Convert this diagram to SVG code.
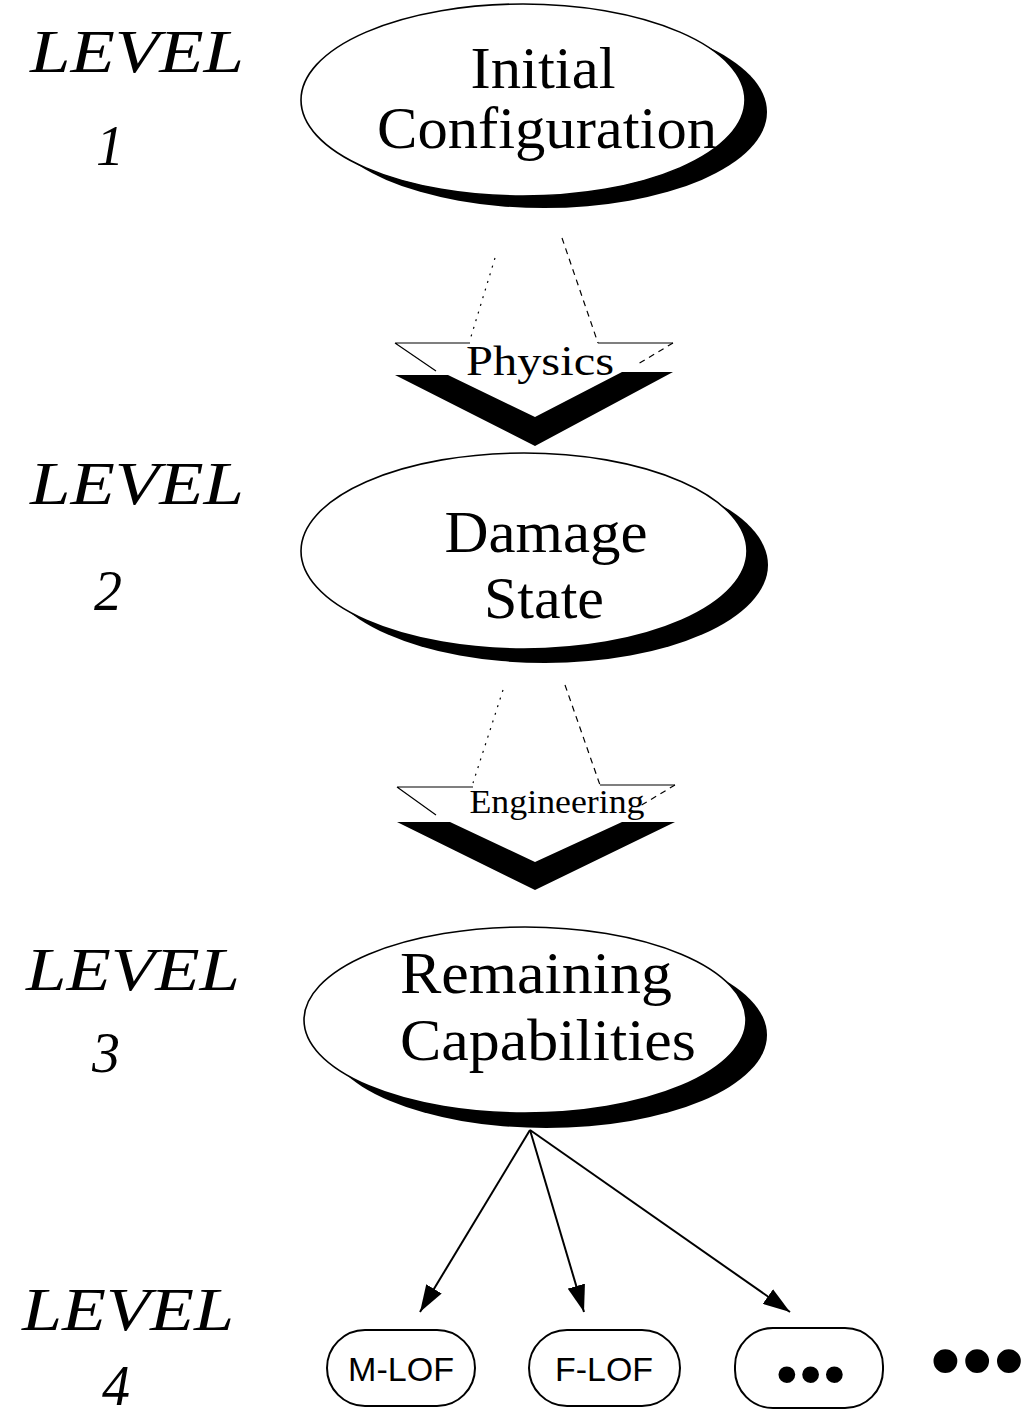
<svg xmlns="http://www.w3.org/2000/svg" width="1028" height="1421" viewBox="0 0 1028 1421">
<defs>
<style>
.lvl{font-family:"Liberation Serif",serif;font-style:italic;font-size:62px;fill:#000}
.num{font-family:"Liberation Serif",serif;font-style:italic;font-size:56px;fill:#000;text-anchor:middle}
.big{font-family:"Liberation Serif",serif;font-size:60px;fill:#000;text-anchor:middle}
.lab{font-family:"Liberation Serif",serif;fill:#000;text-anchor:middle}
.sans{font-family:"Liberation Sans",sans-serif;font-size:33px;fill:#000;text-anchor:middle}
.ell{fill:#fff;stroke:#000;stroke-width:1.6}
.shadow{fill:#000}
.pill{fill:#fff;stroke:#000;stroke-width:2}
.face{fill:#fff;stroke:none}
.edge{fill:none;stroke:#000;stroke-width:1.2}
.dash{fill:none;stroke:#000;stroke-width:1.2;stroke-dasharray:6 5}
.dot{fill:none;stroke:#000;stroke-width:1.2;stroke-dasharray:2 6}
.conn{stroke:#000;stroke-width:2;fill:none}
</style>
<marker id="ah" markerWidth="28" markerHeight="18" refX="27" refY="9" orient="auto" markerUnits="userSpaceOnUse">
<path d="M0,0 L27,9 L0,18 Z" fill="#000"/>
</marker>
</defs>
<rect width="1028" height="1421" fill="#fff"/>

<g id="level1">
<text class="lvl" x="30" y="72" textLength="214" lengthAdjust="spacingAndGlyphs">LEVEL</text>
<text class="num" x="110" y="165">1</text>
</g>
<g id="level2">
<text class="lvl" x="30" y="504" textLength="214" lengthAdjust="spacingAndGlyphs">LEVEL</text>
<text class="num" x="108" y="610">2</text>
</g>
<g id="level3">
<text class="lvl" x="26" y="990" textLength="214" lengthAdjust="spacingAndGlyphs">LEVEL</text>
<text class="num" x="106" y="1072">3</text>
</g>
<g id="level4">
<text class="lvl" x="22" y="1330" textLength="212" lengthAdjust="spacingAndGlyphs">LEVEL</text>
<text class="num" x="116" y="1405" font-size="52">4</text>
</g>

<g id="connectors">
<g id="physics-arrow">
<polygon class="face" points="395,343 673,343 535,440"/>
<path class="edge" d="M395,343 L470,343 M598,343 L673,343 M395,343 L436,371"/>
<path class="dash" d="M562,238 L598,343 M673,343 L638,364"/>
<path class="dot" d="M495,258 L470,340"/>
<polygon fill="#000" points="395,375 448,375 535,417 622,372 673,372 535,446"/>
<text class="lab" x="540" y="375" font-size="42" textLength="148" lengthAdjust="spacingAndGlyphs">Physics</text>
</g>
<g id="engineering-arrow">
<polygon class="face" points="397,787 675,785 535,880"/>
<path class="edge" d="M397,787 L473,787 M600,785 L675,785 M397,787 L436,815"/>
<path class="dash" d="M565,685 L600,785 M675,785 L640,806"/>
<path class="dot" d="M503,690 L473,783"/>
<polygon fill="#000" points="397,822 450,822 535,862 622,822 675,822 535,890"/>
<text class="lab" x="557" y="813" font-size="33" textLength="175" lengthAdjust="spacingAndGlyphs">Engineering</text>
</g>
<line class="conn" x1="530" y1="1130" x2="420" y2="1312" marker-end="url(#ah)"/>
<line class="conn" x1="530" y1="1130" x2="584" y2="1312" marker-end="url(#ah)"/>
<line class="conn" x1="530" y1="1130" x2="790" y2="1312" marker-end="url(#ah)"/>
</g>

<g id="initial-configuration">
<ellipse class="shadow" cx="544" cy="112" rx="223" ry="96"/>
<ellipse class="ell" cx="523" cy="100" rx="222" ry="96"/>
<text class="big" x="543" y="88" textLength="145" lengthAdjust="spacingAndGlyphs">Initial</text>
<text class="big" x="547" y="148" textLength="340" lengthAdjust="spacingAndGlyphs">Configuration</text>
</g>

<g id="damage-state">
<ellipse class="shadow" cx="545" cy="565" rx="223" ry="98"/>
<ellipse class="ell" cx="524" cy="551" rx="223" ry="98"/>
<text class="big" x="546" y="552" textLength="203" lengthAdjust="spacingAndGlyphs">Damage</text>
<text class="big" x="544" y="618" textLength="120" lengthAdjust="spacingAndGlyphs">State</text>
</g>

<g id="remaining-capabilities">
<ellipse class="shadow" cx="546" cy="1035" rx="221" ry="93"/>
<ellipse class="ell" cx="525" cy="1020" rx="221" ry="93"/>
<text class="big" x="536" y="993" textLength="272" lengthAdjust="spacingAndGlyphs">Remaining</text>
<text class="big" x="548" y="1060" textLength="296" lengthAdjust="spacingAndGlyphs">Capabilities</text>
</g>

<g id="m-lof">
<rect class="pill" x="327" y="1330" width="148" height="76" rx="38" ry="38"/>
<text class="sans" x="401" y="1381" textLength="106" lengthAdjust="spacingAndGlyphs">M-LOF</text>
</g>
<g id="f-lof">
<rect class="pill" x="529" y="1330" width="151" height="76" rx="38" ry="38"/>
<text class="sans" x="604" y="1381" textLength="98" lengthAdjust="spacingAndGlyphs">F-LOF</text>
</g>
<g id="more">
<rect class="pill" x="735" y="1328" width="148" height="80" rx="38" ry="38"/>
<text x="776" y="1395" font-family="Liberation Sans, sans-serif" font-size="62" letter-spacing="2" fill="#000">•••</text>
</g>
<g id="ellipsis">
<text x="930" y="1390" font-family="Liberation Sans, sans-serif" font-size="88" letter-spacing="1" fill="#000">•••</text>
</g>
</svg>
